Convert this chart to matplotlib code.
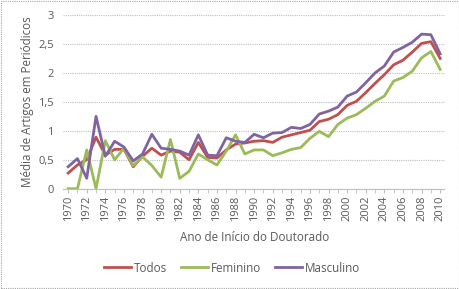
"""Média de artigos em periódicos por ano de início do doutorado."""

import matplotlib

matplotlib.use("Agg")
import matplotlib.pyplot as plt
from matplotlib.patches import Rectangle
from matplotlib.ticker import FuncFormatter, MultipleLocator

# Dados
anos = list(range(1970, 2011))

todos = [0.27, 0.41, 0.50, 0.89, 0.58, 0.68, 0.68, 0.38, 0.56, 0.70,
         0.58, 0.65, 0.63, 0.50, 0.80, 0.54, 0.53, 0.67, 0.77, 0.79,
         0.82, 0.83, 0.80, 0.89, 0.93, 0.97, 1.01, 1.16, 1.20, 1.28,
         1.44, 1.51, 1.66, 1.82, 1.97, 2.14, 2.22, 2.36, 2.51, 2.54,
         2.25]

feminino = [0.00, 0.00, 0.67, 0.00, 0.83, 0.50, 0.70, 0.40, 0.55, 0.40,
            0.20, 0.85, 0.18, 0.30, 0.60, 0.50, 0.41, 0.65, 0.93, 0.60,
            0.67, 0.67, 0.57, 0.62, 0.68, 0.71, 0.87, 0.99, 0.90, 1.11,
            1.22, 1.28, 1.39, 1.51, 1.60, 1.86, 1.92, 2.03, 2.26, 2.37,
            2.06]

masculino = [0.38, 0.52, 0.18, 1.25, 0.56, 0.82, 0.72, 0.48, 0.60, 0.94,
             0.70, 0.68, 0.65, 0.58, 0.93, 0.58, 0.57, 0.88, 0.82, 0.80,
             0.94, 0.88, 0.96, 0.97, 1.06, 1.04, 1.11, 1.29, 1.34, 1.41,
             1.60, 1.67, 1.83, 2.00, 2.12, 2.36, 2.44, 2.53, 2.67, 2.66,
             2.33]

series = [
    ("Todos", todos, "#C0504D"),
    ("Feminino", feminino, "#9BBB59"),
    ("Masculino", masculino, "#8064A2"),
]

COR_TEXTO = "#595959"
COR_GRADE = "#BFBFBF"

plt.rcParams.update({
    "font.family": ["Open Sans", "DejaVu Sans"],
    "font.size": 8,
})

fig = plt.figure(figsize=(4.6, 2.89), dpi=100)
ax = fig.add_axes([0.138, 0.347, 0.829, 0.601])

for nome, valores, cor in series:
    ax.plot(anos, valores, color=cor, linewidth=2.0, label=nome,
            solid_joinstyle="round")

ax.set_xlim(1969.5, 2010.5)
ax.set_ylim(0, 3)
ax.xaxis.set_major_locator(MultipleLocator(2))
ax.xaxis.set_minor_locator(MultipleLocator(1))
ax.yaxis.set_major_locator(MultipleLocator(0.5))
ax.yaxis.set_major_formatter(
    FuncFormatter(lambda v, p: f"{v:g}".replace(".", ",")))
ax.tick_params(axis="x", rotation=90, colors=COR_TEXTO, labelsize=8,
               length=3, color=COR_GRADE, pad=2)
ax.tick_params(axis="x", which="minor", length=3, color=COR_GRADE)
ax.tick_params(axis="y", colors=COR_TEXTO, labelsize=8, length=0, pad=7)

ax.grid(axis="y", color=COR_GRADE, linestyle=(0, (1, 1)), linewidth=0.8)
ax.set_axisbelow(True)
for lado in ("top", "right", "left"):
    ax.spines[lado].set_visible(False)
ax.spines["bottom"].set_color(COR_GRADE)
ax.spines["bottom"].set_linestyle((0, (1, 1)))

ax.set_xlabel("Ano de Início do Doutorado", color=COR_TEXTO, fontsize=8.4,
              labelpad=7)
ax.set_ylabel("Média de Artigos em Periódicos", color=COR_TEXTO, fontsize=8.4,
              labelpad=3)

fig.legend(loc="center", bbox_to_anchor=(0.504, 1 - 268 / 289), ncol=3,
           frameon=False, fontsize=8.4, labelcolor=COR_TEXTO,
           handlelength=2.3, handletextpad=0.25, columnspacing=1.2)

# moldura pontilhada da área do gráfico
fig.patches.append(Rectangle((0.002, 0.003), 0.995, 0.993,
                             transform=fig.transFigure, fill=False,
                             edgecolor="#A6A6A6", linestyle=(0, (1, 1)),
                             linewidth=0.8))

fig.savefig("out.png", dpi=100)
